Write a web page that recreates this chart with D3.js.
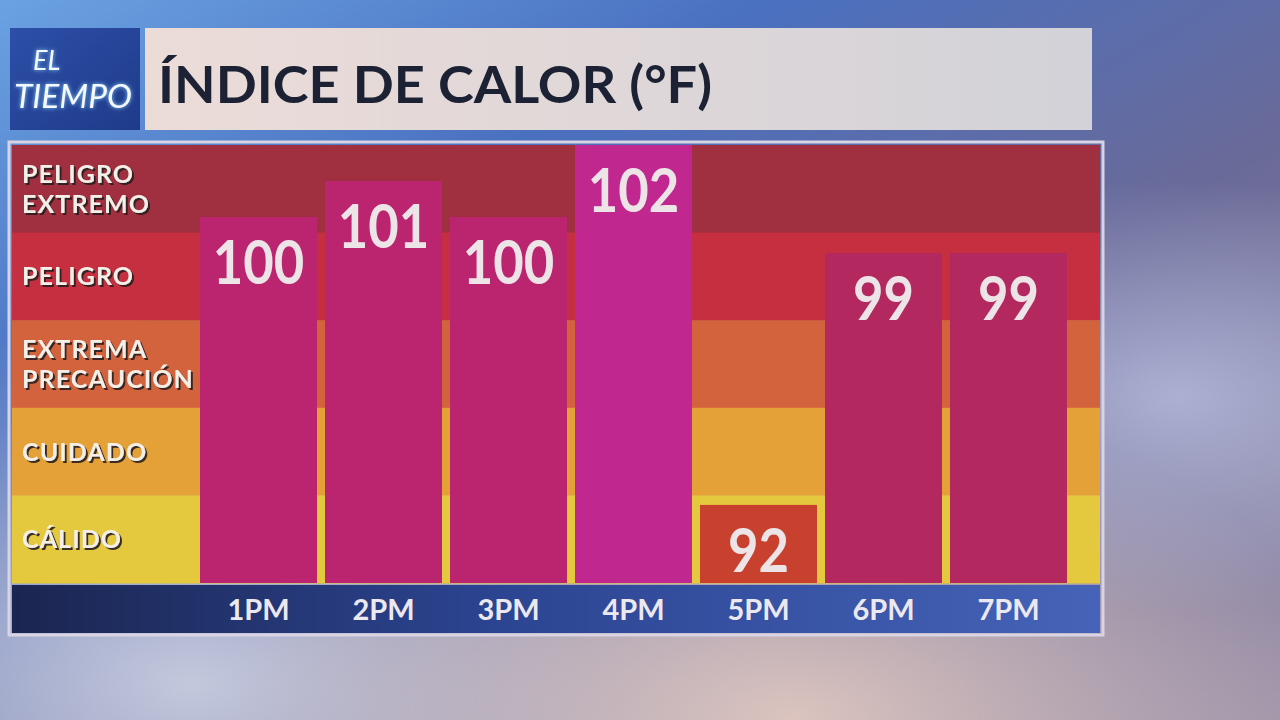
<!DOCTYPE html>
<html><head><meta charset="utf-8">
<script src="https://cdn.jsdelivr.net/npm/d3@7"></script>
<style>html,body{margin:0;padding:0;background:#7a80a8;overflow:hidden}svg{display:block}</style>
</head><body>
<svg id="c" width="1280" height="720"></svg>
<script>
const hours = ["1PM","2PM","3PM","4PM","5PM","6PM","7PM"];
const heatIndex = [100,101,100,102,92,99,99];
const levels = ["PELIGRO EXTREMO","PELIGRO","EXTREMA PRECAUCIÓN","CUIDADO","CÁLIDO"];
const levelLines = [["PELIGRO","EXTREMO"],["PELIGRO"],["EXTREMA","PRECAUCIÓN"],["CUIDADO"],["CÁLIDO"]];
const titleText = "ÍNDICE DE CALOR (°F)";
const logoLines = ["EL","TIEMPO"];

const svg = d3.select("#c");
const defs = svg.append("defs");

// background
const bg = defs.append("linearGradient").attr("id","bg").attr("x1",0).attr("y1",0).attr("x2",1).attr("y2",1);
[["0%","#6aa2e2"],["30%","#4a70c0"],["60%","#6a6a98"],["100%","#9a90a8"]].forEach(([o,c])=>bg.append("stop").attr("offset",o).attr("stop-color",c));
svg.append("rect").attr("width",1280).attr("height",720).attr("fill","url(#bg)");
const rg1 = defs.append("radialGradient").attr("id","rg1").attr("cx",0.15).attr("cy",0.95).attr("r",0.5);
rg1.append("stop").attr("offset","0%").attr("stop-color","#c8cde0").attr("stop-opacity",0.95);
rg1.append("stop").attr("offset","100%").attr("stop-color","#c8cde0").attr("stop-opacity",0);
svg.append("rect").attr("width",1280).attr("height",720).attr("fill","url(#rg1)");
const rg2 = defs.append("radialGradient").attr("id","rg2").attr("cx",0.62).attr("cy",1.0).attr("r",0.45);
rg2.append("stop").attr("offset","0%").attr("stop-color","#e0c8c0").attr("stop-opacity",0.95);
rg2.append("stop").attr("offset","100%").attr("stop-color","#e0c8c0").attr("stop-opacity",0);
svg.append("rect").attr("width",1280).attr("height",720).attr("fill","url(#rg2)");
const rg3 = defs.append("radialGradient").attr("id","rg3").attr("cx",0.92).attr("cy",0.55).attr("r",0.3);
rg3.append("stop").attr("offset","0%").attr("stop-color","#c0c8e8").attr("stop-opacity",0.7);
rg3.append("stop").attr("offset","100%").attr("stop-color","#c0c8e8").attr("stop-opacity",0);
svg.append("rect").attr("width",1280).attr("height",720).attr("fill","url(#rg3)");

// filters
const glow = defs.append("filter").attr("id","glow").attr("x","-20%").attr("y","-30%").attr("width","140%").attr("height","160%");
glow.append("feGaussianBlur").attr("in","SourceAlpha").attr("stdDeviation",2.2).attr("result","b");
glow.append("feFlood").attr("flood-color","#8fe0ff").attr("flood-opacity",0.9);
glow.append("feComposite").attr("in2","b").attr("operator","in").attr("result","g");
const fm = glow.append("feMerge"); fm.append("feMergeNode").attr("in","g"); fm.append("feMergeNode").attr("in","SourceGraphic");
const sh = defs.append("filter").attr("id","sh").attr("x","-10%").attr("y","-20%").attr("width","130%").attr("height","150%");
sh.append("feDropShadow").attr("dx",2).attr("dy",2).attr("stdDeviation",0.6).attr("flood-color","#2a1e1e").attr("flood-opacity",0.9);

// logo
const lg = defs.append("linearGradient").attr("id","lg").attr("x1",0).attr("y1",0).attr("x2",1).attr("y2",1);
lg.append("stop").attr("offset","0%").attr("stop-color","#2d4fa8");
lg.append("stop").attr("offset","100%").attr("stop-color","#1f3a8a");
svg.append("rect").attr("x",10).attr("y",28).attr("width",130).attr("height",102).attr("fill","url(#lg)");
const logo = svg.append("g")
  .attr("font-family","Lato").attr("font-style","italic").attr("font-weight",400)
  .attr("fill","#f4f8ff").attr("filter","url(#glow)");
logo.append("text").attr("x",33).attr("y",70).attr("font-size",27).text(logoLines[0]);
logo.append("text").attr("x",14).attr("y",108).attr("font-size",32)
  .attr("textLength",118).attr("lengthAdjust","spacingAndGlyphs").text(logoLines[1]);

// title bar
const tg = defs.append("linearGradient").attr("id","tg");
tg.append("stop").attr("offset","0%").attr("stop-color","#ecdcd8");
tg.append("stop").attr("offset","100%").attr("stop-color","#d2d2d8");
svg.append("rect").attr("x",145).attr("y",28).attr("width",947).attr("height",102).attr("fill","url(#tg)");
svg.append("text").attr("x",158).attr("y",103).text(titleText)
  .attr("font-family","Lato").attr("font-weight",700).attr("font-size",52)
  .attr("textLength",554).attr("lengthAdjust","spacingAndGlyphs")
  .attr("fill","#1c2233");

// chart panel
const pLeft = 12, pRight = 1100, pTop = 145, pBase = 583;
svg.append("rect").attr("x",9).attr("y",142).attr("width",1094).attr("height",493)
  .attr("fill","none").attr("stroke","#d8d4e4").attr("stroke-width",3);

const bandY = d3.scaleBand().domain(levels).range([pTop, pBase]);
const bandColor = d3.scaleOrdinal().domain(levels).range(["#a02f40","#c52f3f","#d2633c","#e3a138","#e4c93e"]);
svg.append("g").selectAll("rect").data(levels).join("rect")
  .attr("x",pLeft).attr("width",pRight-pLeft)
  .attr("y",d=>bandY(d)).attr("height",bandY.bandwidth()+0.5)
  .attr("fill",d=>bandColor(d));

const x = d3.scaleBand().domain(hours).range([200,1067]).paddingInner(0.064).paddingOuter(0);
const y = d3.scaleLinear().domain([89.83,102]).range([pBase, pTop]);
const barColor = d3.scaleThreshold().domain([95,100,102]).range(["#c8412f","#b2285f","#bb2570","#c1288f"]);

const data = hours.map((h,i)=>({h, v: heatIndex[i]}));
svg.append("g").selectAll("rect").data(data).join("rect")
  .attr("x",d=>x(d.h)).attr("width",x.bandwidth())
  .attr("y",d=>y(d.v)).attr("height",d=>pBase-y(d.v))
  .attr("fill",d=>barColor(d.v));
svg.append("g").selectAll("text").data(data).join("text")
  .attr("x",d=>x(d.h)+x.bandwidth()/2).attr("y",d=>y(d.v)+67)
  .attr("text-anchor","middle").text(d=>d.v)
  .attr("textLength",d=>String(d.v).length*30.5).attr("lengthAdjust","spacingAndGlyphs")
  .attr("font-family","Lato").attr("font-weight",700).attr("font-size",61)
  .attr("fill","#ece4e6");

// level labels with shadow
const lab = svg.append("g").attr("filter","url(#sh)")
  .attr("font-family","Lato").attr("font-weight",700).attr("font-size",25).attr("letter-spacing",1.1).attr("fill","#f4efe8");
levels.forEach((lv,i)=>{
  const lines = levelLines[i];
  const cy = bandY(lv) + bandY.bandwidth()/2;
  lines.forEach((t,j)=>{
    lab.append("text").attr("x",22).attr("y",cy + 9 + (j - (lines.length-1)/2)*30).text(t);
  });
});

// axis strip
const ag = defs.append("linearGradient").attr("id","ag");
ag.append("stop").attr("offset","0%").attr("stop-color","#1b2550");
ag.append("stop").attr("offset","45%").attr("stop-color","#2c4592");
ag.append("stop").attr("offset","100%").attr("stop-color","#4563b8");
svg.append("rect").attr("x",pLeft).attr("y",pBase+2).attr("width",pRight-pLeft).attr("height",48).attr("fill","url(#ag)");
const axis = d3.axisBottom(x).tickSize(0).tickPadding(0);
const axG = svg.append("g").attr("transform",`translate(0,${pBase+2})`).call(axis);
axG.select(".domain").remove();
axG.selectAll("text").attr("dy",null).attr("y",35)
  .attr("font-family","Lato").attr("font-weight",700).attr("font-size",29).attr("fill","#ece8f0");
</script>
</body></html>
